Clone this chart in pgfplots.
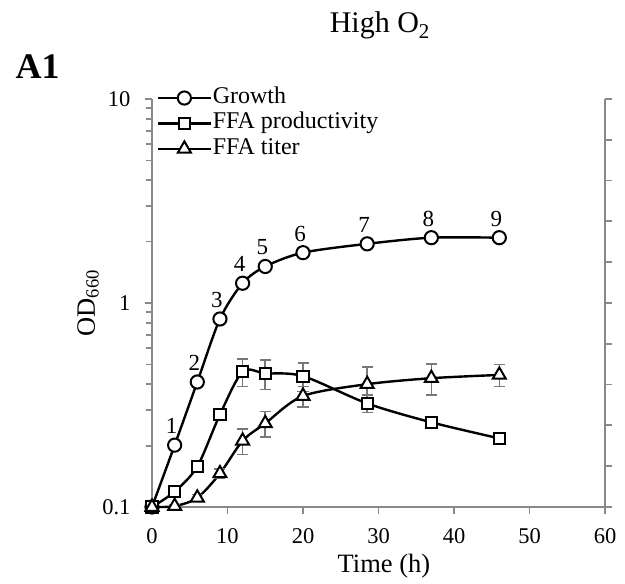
\documentclass[border=0pt]{standalone}
\usepackage{pgfplots}
\pgfplotsset{compat=1.18}
\usepackage{pgfplotstable}
\usepackage{fontspec}
\setmainfont{Liberation Serif}
\definecolor{axgray}{RGB}{137,137,137}
\definecolor{errgray}{RGB}{120,120,120}

\pgfplotstableread{
x y lab
0 0.100 {}
3 0.201 1
6 0.41 2
9 0.835 3
12 1.25 4
15 1.51 5
20 1.765 6
28.5 1.95 7
37 2.09 8
46 2.09 9
}\growth

\pgfplotstableread{
x y e
0 0.100 0
3 0.119 0.004
6 0.158 0.008
9 0.284 0.015
12 0.46 0.07
15 0.452 0.075
20 0.438 0.07
28.5 0.322 0.032
37 0.26 0.015
46 0.217 0.008
}\prodt

\pgfplotstableread{
x y e
0 0.100 0
3 0.101 0.002
6 0.111 0.004
9 0.146 0.008
12 0.211 0.03
15 0.257 0.037
20 0.35 0.04
28.5 0.40 0.085
37 0.428 0.075
46 0.444 0.055
}\titer

\begin{document}
\begin{tikzpicture}
\begin{axis}[
  at={(0,0)}, anchor=south west,
  width=453bp, height=408bp, scale only axis,
  xmin=0, xmax=60, ymin=0, ymax=10,
  axis x line=none, axis y line*=right,
  axis line style={axgray, line width=1.8bp, -},
  ytick={0,1,...,10}, yticklabels={},
  tick align=outside,
  tick style={axgray, line width=1.8bp},
  major tick length=7bp,
]
\end{axis}
\begin{axis}[
  at={(0,0)}, anchor=south west,
  width=453bp, height=408bp, scale only axis,
  xmin=0, xmax=60, ymin=0.1, ymax=10, ymode=log,
  axis x line*=bottom, axis y line*=left,
  axis line style={axgray, line width=1.8bp, -},
  xtick={0,10,...,60},
  ytick={0.1,1,10}, yticklabels={0.1,1,10},
  minor ytick={0.2,0.3,0.4,0.5,0.6,0.7,0.8,0.9,2,3,4,5,6,7,8,9},
  tick align=outside,
  tick style={axgray, line width=1.8bp},
  major tick length=7bp, minor tick length=6bp,
  /pgf/number format/assume math mode=true,
  ticklabel style={font=\fontsize{22.5bp}{24bp}\selectfont},
  yticklabel style={xshift=-11bp},
  xticklabel style={yshift=-11bp},
  xlabel={Time (h)}, ylabel={OD\textsubscript{660}},
  label style={font=\fontsize{26.5bp}{30bp}\selectfont},
  xlabel style={at={(axis description cs:0.512,-0.145)}, anchor=center},
  ylabel style={at={(axis description cs:-0.141,0.5)}, anchor=center},
  clip=false,
  legend style={draw=none, fill=none, at={(axis description cs:0.011,1.034)}, anchor=north west,
    font=\fontsize{24bp}{26bp}\selectfont, row sep=0pt, inner sep=0pt,
    nodes={inner sep=1.2bp, text height=17bp, text depth=6bp}},
  legend cell align=left,
  legend image code/.code={\draw[mark repeat=2,mark phase=2] plot coordinates {(0bp,0bp) (26bp,0bp) (52bp,0bp)};},
]
\addplot[black, line width=2.4bp, smooth, mark=*, mark size=6.6bp,
  mark options={solid, fill=white, line width=2bp},
  nodes near coords, point meta=explicit symbolic,
  nodes near coords style={font=\fontsize{23bp}{25bp}\selectfont, anchor=center, yshift=19bp, xshift=-3bp}]
  table[x=x, y=y, meta=lab]{\growth};
\addlegendentry{Growth}
\addplot[black, line width=2.4bp, smooth, mark=square*, mark size=5.6bp,
  mark options={solid, fill=white, line width=2bp},
  error bars/.cd, y dir=both, y explicit,
  error bar style={errgray, line width=1.6bp},
  error mark options={rotate=90, errgray, mark size=5.5bp, line width=1.6bp}]
  table[x=x, y=y, y error=e]{\prodt};
\addlegendentry{FFA productivity}
\addplot[black, line width=2.4bp, smooth, mark=triangle*, mark size=7.5bp,
  mark options={solid, fill=white, line width=2bp},
  error bars/.cd, y dir=both, y explicit,
  error bar style={errgray, line width=1.6bp},
  error mark options={rotate=90, errgray, mark size=5.5bp, line width=1.6bp}]
  table[x=x, y=y, y error=e]{\titer};
\addlegendentry{FFA titer}
\node[anchor=base, font=\fontsize{30bp}{34bp}\selectfont] at (axis description cs:0.503,1.162) {High O\textsubscript{2}};
\end{axis}
\node[anchor=base west, font=\bfseries\fontsize{36bp}{40bp}\selectfont] at (-140bp,428bp) {A1};
\pgfresetboundingbox
\path[use as bounding box] (-152bp,-77bp) rectangle (473bp,507bp);
\end{tikzpicture}
\end{document}
